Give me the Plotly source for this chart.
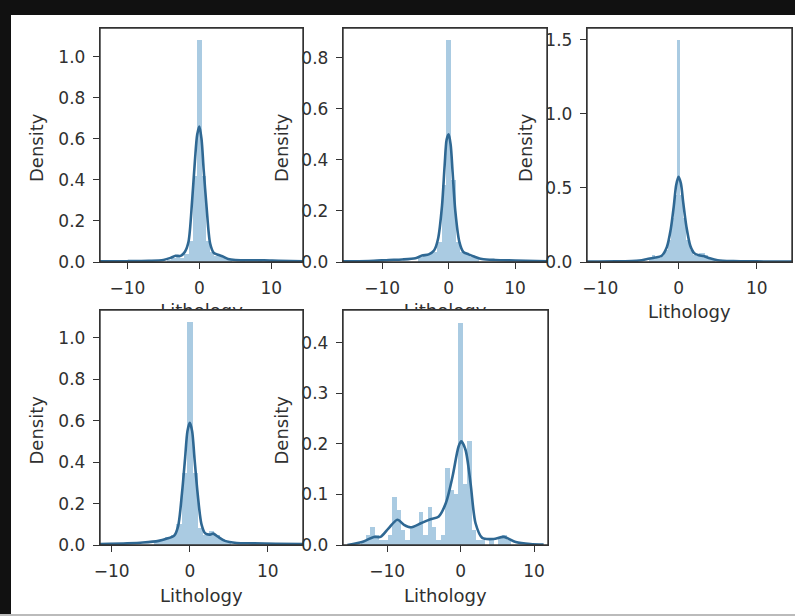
import plotly.graph_objects as go

# ---------------- data: Lithology distributions (density) ----------------
# histogram bars: bin centres, densities, bin width
lith1_bins = [-4.2, -3.6, -3.0, -2.4, -1.8, -1.2, -0.6, 0.0, 0.6, 1.2, 1.8, 2.4, 3.0, 3.6, 4.2, 6.0, 8.4, 10.2]
lith1_density = [0.01, 0.02, 0.03, 0.02, 0.04, 0.10, 0.42, 1.08, 0.42, 0.10, 0.05, 0.03, 0.03, 0.02, 0.01, 0.01, 0.008, 0.006]
lith1_binwidth = 0.6
lith1_kde_x = [-13.8, -10, -7, -5, -4, -3.3, -2.6, -2, -1.5, -1.0, -0.6, -0.3, 0, 0.3, 0.6, 1.0, 1.5, 2.0, 2.6, 3.2, 4, 5, 7, 9, 11, 14.4]
lith1_kde_y = [0.003, 0.004, 0.006, 0.01, 0.02, 0.03, 0.03, 0.05, 0.10, 0.30, 0.50, 0.62, 0.66, 0.60, 0.45, 0.27, 0.09, 0.045, 0.035, 0.028, 0.015, 0.01, 0.008, 0.008, 0.006, 0.004]

lith2_bins = [-4.2, -3.5, -2.8, -2.1, -1.4, -0.7, 0.0, 0.7, 1.4, 2.1, 2.8, 3.5, 4.2]
lith2_density = [0.02, 0.03, 0.03, 0.04, 0.08, 0.30, 0.87, 0.32, 0.08, 0.04, 0.03, 0.02, 0.015]
lith2_binwidth = 0.7
lith2_kde_x = [-15.9, -12, -9, -7, -5, -4, -3, -2.2, -1.6, -1.0, -0.6, -0.3, 0, 0.3, 0.6, 1.0, 1.6, 2.2, 3, 4, 5, 7, 10, 14.8]
lith2_kde_y = [0.003, 0.004, 0.008, 0.01, 0.015, 0.025, 0.03, 0.045, 0.09, 0.22, 0.38, 0.48, 0.50, 0.46, 0.35, 0.20, 0.08, 0.04, 0.03, 0.02, 0.012, 0.008, 0.006, 0.003]

lith3_bins = [-3.6, -3.2, -2.8, -2.4, -2.0, -1.6, -1.2, -0.8, -0.4, 0.0, 0.4, 0.8, 1.2, 1.6, 2.0, 2.4, 2.8, 3.2, 3.6, 4.0, 4.4]
lith3_density = [0.03, 0.05, 0.03, 0.03, 0.04, 0.08, 0.15, 0.30, 0.45, 1.50, 0.45, 0.30, 0.15, 0.08, 0.05, 0.04, 0.06, 0.06, 0.05, 0.03, 0.02]
lith3_binwidth = 0.4
lith3_kde_x = [-11.7, -8, -5, -4, -3, -2.2, -1.5, -1.0, -0.6, -0.3, 0, 0.3, 0.6, 1.0, 1.5, 2.0, 2.6, 3.2, 4, 5, 7, 10, 14.5]
lith3_kde_y = [0.003, 0.004, 0.01, 0.02, 0.03, 0.04, 0.10, 0.22, 0.38, 0.52, 0.575, 0.53, 0.40, 0.24, 0.11, 0.06, 0.045, 0.04, 0.025, 0.012, 0.006, 0.004, 0.003]

lith4_bins = [-4.2, -3.5, -2.8, -2.1, -1.4, -0.7, 0.0, 0.7, 1.4, 2.1, 2.8, 3.5, 4.2, 4.9]
lith4_density = [0.02, 0.03, 0.04, 0.05, 0.10, 0.35, 1.077, 0.35, 0.08, 0.05, 0.07, 0.05, 0.03, 0.02]
lith4_binwidth = 0.7
lith4_kde_x = [-11.5, -8, -6, -4, -3, -2, -1.5, -1.0, -0.6, -0.3, 0, 0.3, 0.6, 1.0, 1.5, 2.0, 2.6, 3.0, 3.6, 4.5, 6, 8, 11, 14.5]
lith4_kde_y = [0.004, 0.008, 0.012, 0.02, 0.03, 0.045, 0.09, 0.25, 0.42, 0.55, 0.59, 0.55, 0.42, 0.25, 0.10, 0.055, 0.05, 0.055, 0.04, 0.02, 0.01, 0.008, 0.006, 0.004]

lith5_bins = [-13.2, -12.6, -12.0, -11.4, -10.8, -10.2, -9.6, -9.0, -8.4, -7.8, -7.2, -6.6, -6.0, -5.4, -4.8,
              -4.2, -3.6, -3.0, -2.4, -1.8, -1.2, -0.6, 0.0, 0.6, 1.2, 1.8, 2.4, 3.0, 4.2, 5.4, 6.0, 6.6]
lith5_density = [0.005, 0.02, 0.036, 0.02, 0.01, 0.01, 0.02, 0.095, 0.07, 0.03, 0.01, 0.035, 0.04, 0.065, 0.02,
                 0.075, 0.035, 0.01, 0.02, 0.152, 0.109, 0.10, 0.44, 0.12, 0.205, 0.03, 0.01, 0.01, 0.01, 0.015, 0.02, 0.01]
lith5_binwidth = 0.6
lith5_kde_x = [-15.4, -13.2, -11.8, -10.9, -9.8, -8.6, -7.7, -6.8, -5.4, -4.1, -3.0, -2.0, -1.1, -0.27, 0.1, 0.68,
               1.36, 2.04, 2.95, 4.5, 5.9, 7.5, 9.5, 11.3]
lith5_kde_y = [0.0, 0.007, 0.016, 0.016, 0.033, 0.05, 0.04, 0.035, 0.043, 0.051, 0.056, 0.083, 0.135, 0.195, 0.205, 0.188,
               0.122, 0.043, 0.014, 0.012, 0.016, 0.006, 0.002, 0.001]

x_ticks = [-10, 0, 10]
y_ticks = [
    [0.0, 0.2, 0.4, 0.6, 0.8, 1.0],
    [0.0, 0.2, 0.4, 0.6, 0.8],
    [0.0, 0.5, 1.0, 1.5],
    [0.0, 0.2, 0.4, 0.6, 0.8, 1.0],
    [0.0, 0.1, 0.2, 0.3, 0.4],
]
x_ranges = [[-13.8, 14.4], [-15.9, 14.8], [-11.7, 14.5], [-11.5, 14.5], [-16.0, 11.9]]
y_ranges = [[0, 1.14], [0, 0.917], [0, 1.578], [0, 1.135], [0, 0.465]]
x_label = "Lithology"
y_label = "Density"

panels = [
    (lith1_bins, lith1_density, lith1_binwidth, lith1_kde_x, lith1_kde_y),
    (lith2_bins, lith2_density, lith2_binwidth, lith2_kde_x, lith2_kde_y),
    (lith3_bins, lith3_density, lith3_binwidth, lith3_kde_x, lith3_kde_y),
    (lith4_bins, lith4_density, lith4_binwidth, lith4_kde_x, lith4_kde_y),
    (lith5_bins, lith5_density, lith5_binwidth, lith5_kde_x, lith5_kde_y),
]

# ---------------- layout geometry (pixels) ----------------
W, H = 795, 616
# left, right, top, bottom of each plotting box
boxes = [
    (100, 303, 28, 262),
    (343, 547, 28, 262),
    (587, 792, 28, 262),
    (100, 303, 310, 545),
    (343, 548, 310, 545),
]

FONT = "DejaVu Sans"
TXT = "#303030"
FS = 17
BAR_COLOR = "rgba(31,119,180,0.38)"
LINE_COLOR = "#2f6893"
SPINE = "#333"


def sub_id(i):
    """Return ('x', 'y') suffix-style ids for subplot i (1-based)."""
    s = "" if i == 1 else str(i)
    return f"x{s}", f"y{s}", f"xaxis{s}", f"yaxis{s}"


fig = go.Figure()
layout = dict(
    width=W, height=H,
    margin=dict(l=0, r=0, t=0, b=0),
    paper_bgcolor="white", plot_bgcolor="white",
    showlegend=False,
    font=dict(family=FONT, size=FS, color=TXT),
    bargap=0,
)
shapes = []

for i, ((bins, dens, bw, kx, ky), (l, r, t, b)) in enumerate(zip(panels, boxes), start=1):
    xa, ya, xkey, ykey = sub_id(i)
    fig.add_trace(go.Bar(
        x=bins, y=dens, width=bw, xaxis=xa, yaxis=ya,
        marker=dict(color=BAR_COLOR, line=dict(width=0)),
        hoverinfo="skip",
    ))
    fig.add_trace(go.Scatter(
        x=kx, y=ky, mode="lines", xaxis=xa, yaxis=ya,
        line=dict(color=LINE_COLOR, width=2.6, shape="spline", smoothing=0.8),
        hoverinfo="skip",
    ))
    common = dict(
        showline=True, mirror=True, linecolor=SPINE, linewidth=1.4,
        ticks="outside", ticklen=6, tickwidth=1.3, tickcolor=SPINE,
        showgrid=False, zeroline=False, automargin=False,
        tickfont=dict(family=FONT, size=FS, color=TXT),
        ticklabelstandoff=4,
    )
    layout[xkey] = dict(
        common, domain=[l / W, r / W], anchor=ya, range=x_ranges[i - 1],
        tickmode="array", tickvals=x_ticks,
    )
    layout[ykey] = dict(
        common, domain=[1 - b / H, 1 - t / H], anchor=xa, range=y_ranges[i - 1],
        tickmode="array", tickvals=y_ticks[i - 1], tickformat=".1f",
    )
    # full four-sided frame around each panel
    shapes.append(dict(
        type="rect", xref=f"{xa} domain", yref=f"{ya} domain",
        x0=0, x1=1, y0=0, y1=1, layer="above",
        line=dict(color=SPINE, width=1.4), fillcolor="rgba(0,0,0,0)",
    ))

annotations = []
# y-axis titles
for (l, r, t, b), xc in zip(boxes, [36, 281, 525, 36, 281]):
    annotations.append(dict(
        x=xc / W, y=1 - ((t + b) / 2 + 3) / H, xref="paper", yref="paper",
        text=y_label, textangle=-90, showarrow=False,
        font=dict(family=FONT, size=FS + 1, color=TXT),
        xanchor="center", yanchor="middle",
    ))
# x-axis titles that are fully visible
for idx, yc in [(2, 312), (3, 595), (4, 595)]:
    l, r, t, b = boxes[idx]
    annotations.append(dict(
        x=(l + r) / 2 / W, y=1 - yc / H, xref="paper", yref="paper",
        text=x_label, showarrow=False,
        font=dict(family=FONT, size=FS + 1, color=TXT),
        xanchor="center", yanchor="middle",
    ))

# x-axis titles of the first two top panels sit partly under the lower row:
# draw them as clipped text inside thin strips ending at the lower boxes' top edge
strip_top, strip_bot = 294, 310
for j, idx in enumerate([0, 1], start=6):
    l, r, t, b = boxes[idx]
    fig.add_trace(go.Scatter(
        x=[0.5], y=[-(312 - strip_bot) / (strip_bot - strip_top)],
        mode="text", text=[x_label], textposition="middle center",
        textfont=dict(family=FONT, size=FS + 1, color=TXT),
        xaxis=f"x{j}", yaxis=f"y{j}", cliponaxis=True, hoverinfo="skip",
    ))
    layout[f"xaxis{j}"] = dict(domain=[l / W, r / W], anchor=f"y{j}", range=[0, 1],
                               visible=False, fixedrange=True)
    layout[f"yaxis{j}"] = dict(domain=[1 - strip_bot / H, 1 - strip_top / H], anchor=f"x{j}",
                               range=[0, 1], visible=False, fixedrange=True)

layout["annotations"] = annotations
shapes += [
    dict(type="rect", xref="paper", yref="paper", x0=0, x1=1, y0=1 - 15 / H, y1=1,
         fillcolor="#111", line=dict(width=0)),
    dict(type="rect", xref="paper", yref="paper", x0=0, x1=11 / W, y0=0, y1=1,
         fillcolor="#111", line=dict(width=0)),
    dict(type="rect", xref="paper", yref="paper", x0=0, x1=1, y0=0, y1=2 / H,
         fillcolor="#bbbbbb", line=dict(width=0)),
]
layout["shapes"] = shapes

fig.update_layout(**layout)
fig.write_html("out.html")
